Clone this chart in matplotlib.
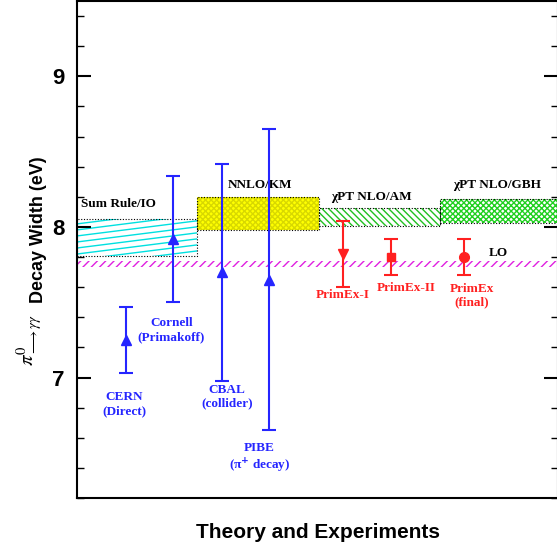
import matplotlib
matplotlib.use("Agg")
import matplotlib.pyplot as plt
import numpy as np
from matplotlib.patches import Rectangle
from matplotlib.ticker import MultipleLocator

# theory bands: name, center, half width, x range
band_names = ["Sum Rule/IO", "NNLO/KM", "χPT NLO/AM", "χPT NLO/GBH"]
band_center = [7.93, 8.09, 8.065, 8.105]
band_err = [0.12, 0.11, 0.06, 0.08]
band_x0 = [0.0, 12.1, 24.4, 36.6]
band_x1 = [12.1, 24.4, 36.6, 48.5]

lo_value = 7.755
lo_halfwidth = 0.02

# experiments
exp_names = ["CERN\n(Direct)", "Cornell\n(Primakoff)", "CBAL\n(collider)",
             "PIBE\n(π$^{\\mathbf{+}}$ decay)", "PrimEx-I", "PrimEx-II", "PrimEx\n(final)"]
exp_x = [4.9, 9.7, 14.6, 19.4, 26.8, 31.7, 39.0]
exp_val = [7.25, 7.92, 7.70, 7.65, 7.82, 7.80, 7.80]
exp_err = [0.22, 0.42, 0.72, 1.00, 0.22, 0.12, 0.12]
exp_marker = ["^", "^", "^", "^", "v", "s", "o"]

blue = "#2525ff"
red = "#ff2020"
serif = "Liberation Serif"
sans = "Liberation Sans"

fig = plt.figure(figsize=(5.57, 5.49), dpi=100)
ax = fig.add_axes([77/557, 1 - 498/549, 481/557, 497/549])

# band styles
band_face = ["none", "#ffff00", "none", "none"]
band_hatch = [None, "xxxxxx", "\\\\\\\\\\", "xxxxxx"]
band_hcol = ["#00e0e0", "#d8d800", "#20c020", "#20d020"]
for i in range(len(band_names)):
    lo_y = band_center[i] - band_err[i]
    w = band_x1[i] - band_x0[i]
    r = Rectangle((band_x0[i], lo_y), w, 2 * band_err[i],
                  facecolor=band_face[i], edgecolor=band_hcol[i], hatch=band_hatch[i],
                  linewidth=0, zorder=1)
    ax.add_patch(r)
    if band_hatch[i] is None:
        # shallow diagonal lines for the sum rule band
        xs = np.array([band_x0[i], band_x1[i]])
        for k in np.arange(-0.15, 2 * band_err[i] + 0.05, 0.04):
            ln, = ax.plot(xs, lo_y + k + 0.0083 * (xs - band_x0[i]), color=band_hcol[i],
                          linewidth=1, zorder=1)
            ln.set_clip_path(r)
    ax.add_patch(Rectangle((band_x0[i], lo_y), w, 2 * band_err[i],
                           facecolor="none", edgecolor="black", linestyle=(0, (1, 1.5)),
                           linewidth=0.8, zorder=2))

# LO band
ax.add_patch(Rectangle((0, lo_value - lo_halfwidth), 48.5, 2 * lo_halfwidth,
                       facecolor="none", edgecolor="#e020e0", hatch="////",
                       linewidth=0, zorder=1))

band_lbl_x = [0.4, 15.2, 25.6, 37.9]
band_lbl_y = [8.11, 8.24, 8.16, 8.24]
for name, x, y in zip(band_names, band_lbl_x, band_lbl_y):
    ax.text(x, y, name, fontsize=9.5, fontweight="bold", family=serif, ha="left", va="bottom")
ax.text(41.5, lo_value + 0.03, "LO", fontsize=9.5, fontweight="bold", family=serif,
        ha="left", va="bottom")

for i in range(len(exp_names)):
    col = red if exp_names[i].startswith("PrimEx") else blue
    ax.errorbar(exp_x[i], exp_val[i], yerr=exp_err[i], fmt=exp_marker[i], color=col,
                markersize=7 if exp_marker[i] != "s" else 6, capsize=5, elinewidth=1.5,
                capthick=1.5, zorder=5)

lbl_x = [4.8, 9.5, 15.1, 18.4, 26.8, 33.2, 39.8]
lbl_y = [6.91, 7.40, 6.96, 6.57, 7.59, 7.635, 7.63]
for i in range(len(exp_names)):
    col = red if exp_names[i].startswith("PrimEx") else blue
    ax.text(lbl_x[i], lbl_y[i], exp_names[i], color=col, fontsize=9.5, fontweight="bold",
            family=serif, ha="center", va="top", linespacing=1.2)

ax.set_xlim(0, 48.5)
ax.set_ylim(6.2, 9.5)
ax.set_xticks([])
ax.yaxis.set_major_locator(MultipleLocator(1))
ax.yaxis.set_minor_locator(MultipleLocator(0.2))
ax.tick_params(axis="y", which="major", direction="in", length=10, width=1.5,
               right=True, labelsize=16, pad=9)
ax.tick_params(axis="y", which="minor", direction="in", length=5, width=1, right=True)
for lab in ax.get_yticklabels():
    lab.set_fontweight("bold")
    lab.set_family(sans)
for s in ax.spines.values():
    s.set_linewidth(1.5)

ax.set_ylabel("Decay Width (eV)", fontsize=13, fontweight="bold", family=sans)
ax.yaxis.set_label_coords(-0.062, 0.54)
fig.text(30/557, 1 - 340/549, r"$\pi^{0}_{\longrightarrow\gamma\gamma}$",
         fontsize=15, rotation=90, ha="center", va="center", math_fontfamily="stix")
ax.set_xlabel("Theory and Experiments", fontsize=15, fontweight="bold", family=sans,
              labelpad=18)

fig.savefig("out.png", dpi=100)
